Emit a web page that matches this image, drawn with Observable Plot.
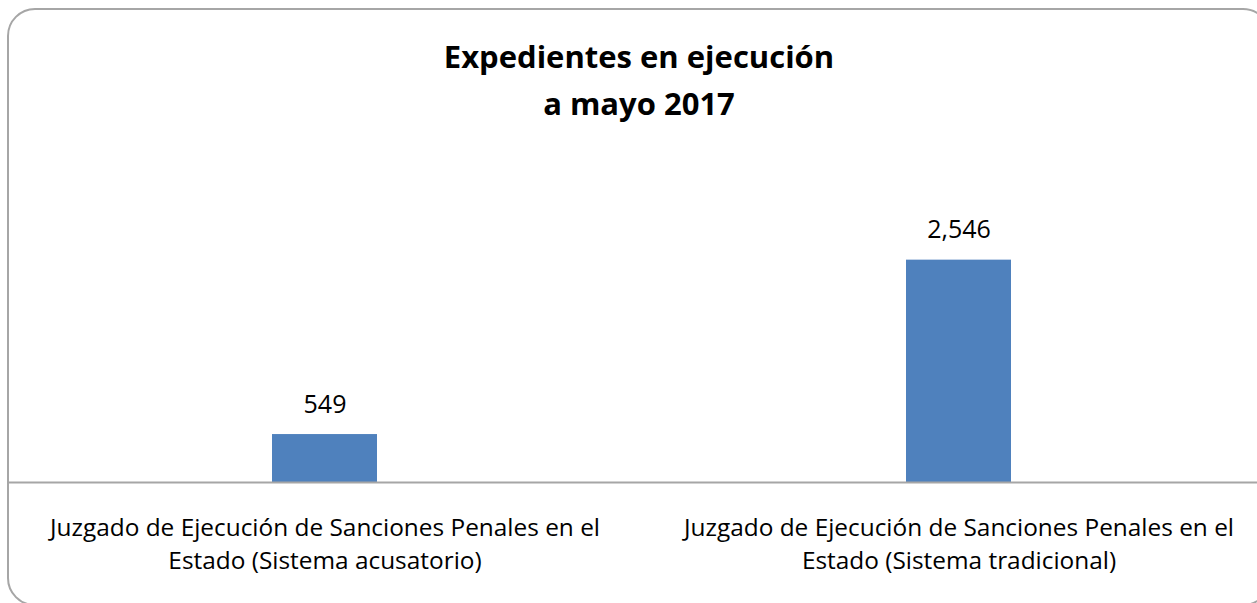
<!DOCTYPE html>
<html>
<head>
<meta charset="utf-8">
<script src="https://cdn.jsdelivr.net/npm/d3@7"></script>
<script src="https://cdn.jsdelivr.net/npm/@observablehq/plot@0.6"></script>
<style>
  html, body { margin: 0; padding: 0; background: #fff; overflow: hidden; }
  body { width: 1257px; height: 603px; position: relative; font-family: "Open Sans", sans-serif; }
  #frame { position: absolute; left: 7px; top: 8px; width: 1264px; height: 598px;
           border: 2px solid #a6a6a6; border-radius: 28px; box-sizing: border-box; }
  #title { position: absolute; left: 7px; width: 1264px; top: 33px; text-align: center;
           font-family: "Open Sans", sans-serif; font-weight: bold; font-size: 31px; line-height: 47px; color: #000; }
  #chart { position: absolute; left: 0; top: 0; }
</style>
</head>
<body>
<div id="frame"></div>
<div id="title">Expedientes en ejecución<br>a mayo 2017</div>
<div id="chart"></div>
<script>
const categories = [
  "Juzgado de Ejecución de Sanciones Penales en el Estado (Sistema acusatorio)",
  "Juzgado de Ejecución de Sanciones Penales en el Estado (Sistema tradicional)"
];
const tickLabels = [
  "Juzgado de Ejecución de Sanciones Penales en el\nEstado (Sistema acusatorio)",
  "Juzgado de Ejecución de Sanciones Penales en el\nEstado (Sistema tradicional)"
];
const values = [549, 2546];
const yDomain = [0, 3000];

const data = categories.map((c, i) => ({category: c, value: values[i]}));
const labelOf = new Map(categories.map((c, i) => [c, tickLabels[i]]));

const chart = Plot.plot({
  width: 1257,
  height: 603,
  marginTop: 220,
  marginBottom: 121,
  marginLeft: 8,
  marginRight: 0,
  style: {fontFamily: "Open Sans, sans-serif", color: "#000", background: "transparent"},
  x: {domain: categories, range: [8, 1276], paddingInner: 0.834, paddingOuter: 0.417, label: null},
  y: {domain: yDomain, axis: null},
  marks: [
    Plot.barY(data, {x: "category", y: "value", fill: "#4f81bd"}),
    Plot.text(data, {x: "category", y: "value", text: d => d3.format(",")(d.value),
      dy: -30, fontSize: 25, fill: "#000"}),
    Plot.ruleY([0], {stroke: "#a6a6a6", strokeWidth: 2}),
    Plot.axisX({tickSize: 0, tickPadding: 29, fontSize: 24.4, lineHeight: 1.39,
      tickFormat: c => labelOf.get(c), fill: "#000"})
  ]
});
document.getElementById("chart").appendChild(chart);
</script>
</body>
</html>
